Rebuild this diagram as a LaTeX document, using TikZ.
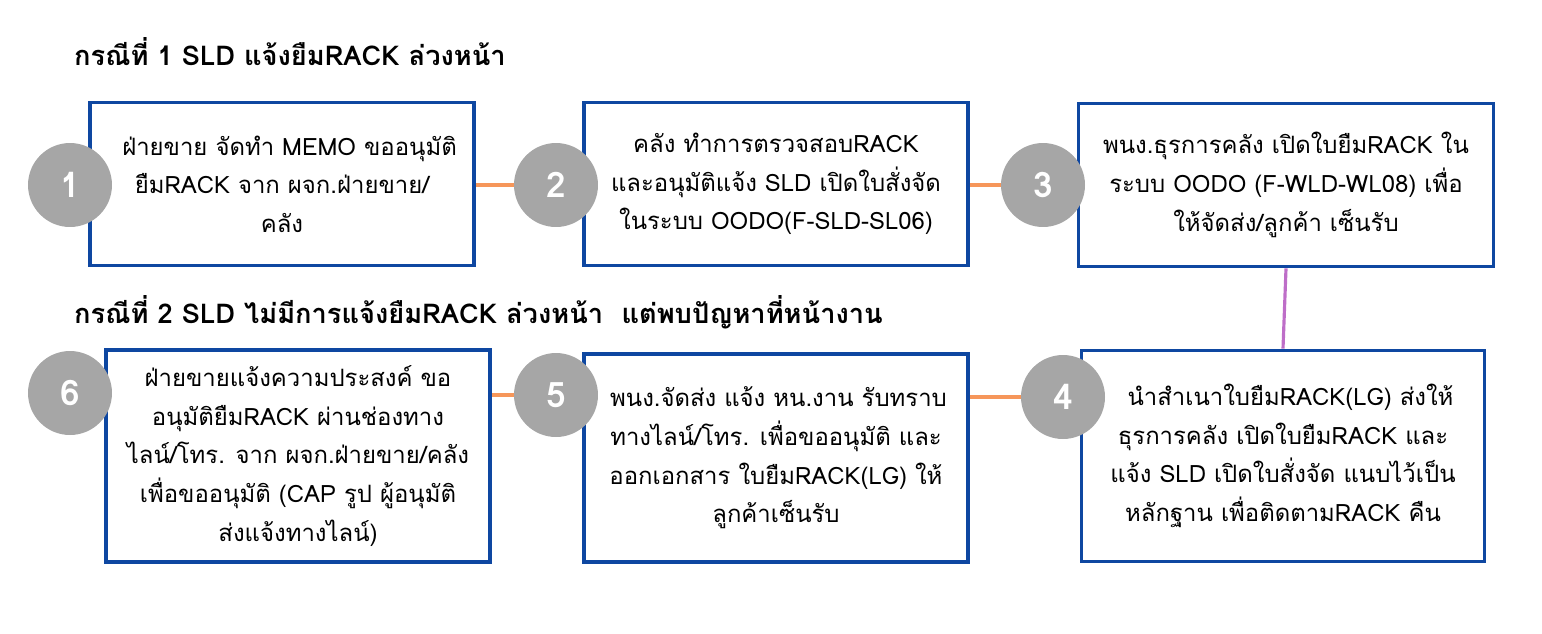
\documentclass[tikz,border=0pt]{standalone}
\usepackage{fontspec}
\setmainfont[Script=Thai]{Loma}
\usetikzlibrary{positioning,calc,backgrounds}
\definecolor{boxblue}{RGB}{14,71,161}
\definecolor{stepgray}{RGB}{166,166,166}
\definecolor{linkorange}{RGB}{246,150,90}
\definecolor{linkpurple}{RGB}{190,110,200}
\tikzset{
  stepbox/.style={draw=boxblue,line width=2.2pt,fill=white,align=center,
    font=\fontsize{13.6}{22}\selectfont,inner sep=0pt},
  num/.style={circle,fill=stepgray,text=white,minimum size=1.68cm,
    font=\fontsize{20}{20}\selectfont\bfseries,inner sep=0pt},
  link/.style={linkorange,line width=1.8pt},
  heading/.style={anchor=west,font=\fontsize{15.5}{17}\selectfont\bfseries}
}
\begin{document}
\begin{tikzpicture}[x=0.02cm,y=-0.02cm]
    \useasboundingbox (0,0) rectangle (1542,633);
    \node[heading] (H1) at (68,52) {กรณีที่ 1 SLD แจ้งยืมRACK ล่วงหน้า};
    \node[heading] (H2) at (68,312) {กรณีที่ 2 SLD ไม่มีการแจ้งยืมRACK ล่วงหน้า\ \ แต่พบปัญหาที่หน้างาน};
    % first row
    \node[stepbox,minimum width=7.68cm,minimum height=3.26cm] (S1) at (282,184)
      {\hspace*{0.3cm}ฝ่ายขาย จัดทำ MEMO ขออนุมัติ\\ ยืมRACK จาก ผจก.ฝ่ายขาย/\\ คลัง};
    \node[stepbox,minimum width=7.68cm,minimum height=3.26cm] (S2) at (776,184)
      {คลัง ทำการตรวจสอบRACK\\ และอนุมัติแจ้ง SLD เปิดใบสั่งจัด\\ ในระบบ OODO(F-SLD-SL06)};
    \node[stepbox,minimum width=8.3cm,minimum height=3.26cm] (S3) at (1286,185)
      {พนง.ธุรการคลัง เปิดใบยืมRACK ใน\\ ระบบ OODO (F-WLD-WL08) เพื่อ\\ ให้จัดส่ง/ลูกค้า เซ็นรับ};
    % second row
    \node[stepbox,minimum width=7.68cm,minimum height=4.24cm] (S6) at (298,456)
      {ฝ่ายขายแจ้งความประสงค์ ขอ\\ อนุมัติยืมRACK ผ่านช่องทาง\\ ไลน์/โทร. จาก ผจก.ฝ่ายขาย/คลัง\\ เพื่อขออนุมัติ (CAP รูป ผู้อนุมัติ\\ ส่งแจ้งทางไลน์)};
    \node[stepbox,minimum width=7.68cm,minimum height=4.16cm] (S5) at (776,458)
      {\hspace*{0.1cm}พนง.จัดส่ง แจ้ง หน.งาน รับทราบ\\ ทางไลน์/โทร. เพื่อขออนุมัติ และ\\ ออกเอกสาร ใบยืมRACK(LG) ให้\\ ลูกค้าเซ็นรับ};
    \node[stepbox,minimum width=8.06cm,minimum height=4.22cm] (S4) at (1283,456)
      {\hspace*{0.3cm}นำสำเนาใบยืมRACK(LG) ส่งให้\\ ธุรการคลัง เปิดใบยืมRACK และ\\ แจ้ง SLD เปิดใบสั่งจัด แนบไว้เป็น\\ หลักฐาน เพื่อติดตามRACK คืน};
    % step numbers
    \node[num] (N1) at (70,185) {1};
    \node[num] (N2) at (556,185) {2};
    \node[num] (N3) at (1043,185) {3};
    \node[num] (N6) at (70,393) {6};
    \node[num] (N5) at (556,395) {5};
    \node[num] (N4) at (1063,397) {4};
    % connectors
    \begin{scope}[on background layer]
    \draw[link] (S1.east |- N2) -- (N2);
    \draw[link] (S2.east |- N3) -- (N3);
    \draw[link] (S6.east |- N5) -- (N5);
    \draw[link] (S5.east |- N4) -- (N4);
    \draw[linkpurple,line width=1.8pt] (S3.south) -- (S4.north);
    \end{scope}
\end{tikzpicture}
\end{document}
